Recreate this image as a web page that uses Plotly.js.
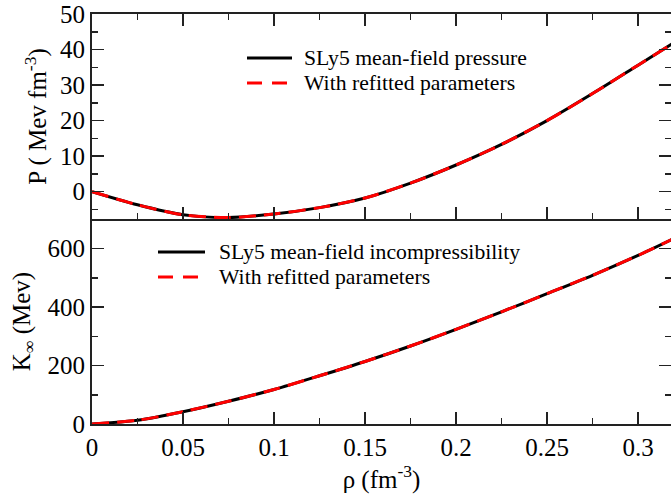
<!DOCTYPE html>
<html>
<head>
<meta charset="utf-8">
<script src="https://cdn.plot.ly/plotly-3.0.1.min.js"></script>
<style>html,body{margin:0;padding:0;background:#fff;}#chart{width:671px;height:500px;}</style>
</head>
<body>
<div id="chart"></div>
<script>
// density values (fm^-3)
var rho = [0, 0.025, 0.05, 0.075, 0.1, 0.125, 0.15, 0.175, 0.2, 0.225, 0.25, 0.275, 0.3, 0.32];
// pressure (MeV fm^-3)
var pressureSLy5 = [0, -3.7, -6.5, -7.3, -6.3, -4.5, -1.8, 2.4, 7.5, 13.3, 20.0, 27.6, 35.6, 42.0];
var pressureRefit = [0, -3.7, -6.5, -7.3, -6.3, -4.5, -1.8, 2.4, 7.5, 13.3, 20.0, 27.6, 35.6, 42.0];
// incompressibility (MeV)
var kSLy5 = [0, 13, 42, 78, 118, 165, 214, 267, 324, 384, 446, 509, 577, 636];
var kRefit = [0, 13, 42, 78, 118, 165, 214, 267, 324, 384, 446, 509, 577, 636];
var names = ["SLy5 mean-field pressure", "With refitted parameters", "SLy5 mean-field incompressibility", "With refitted parameters"];

var serif = "'Liberation Serif', 'Times New Roman', 'DejaVu Serif', serif";
var RED_DASH = "17px,8px";
var traces = [
  {x: rho, y: pressureSLy5, name: names[0], mode: "lines", line: {color: "#000", width: 3, shape: "spline", smoothing: 0.8}, xaxis: "x2", yaxis: "y2"},
  {x: rho, y: pressureRefit, name: names[1], mode: "lines", line: {color: "#ff0000", width: 3, dash: RED_DASH, shape: "spline", smoothing: 0.8}, xaxis: "x2", yaxis: "y2"},
  {x: rho, y: kSLy5, name: names[2], mode: "lines", line: {color: "#000", width: 3, shape: "spline", smoothing: 0.8}, xaxis: "x", yaxis: "y"},
  {x: rho, y: kRefit, name: names[3], mode: "lines", line: {color: "#ff0000", width: 3, dash: RED_DASH, shape: "spline", smoothing: 0.8}, xaxis: "x", yaxis: "y"}
];

var M = {l: 92, r: 0, t: 14, b: 76};
var W = 671, H = 500;
var pw = W - M.l - M.r, ph = H - M.t - M.b;
function px(x) { return (x - M.l) / pw; }
function py(y) { return 1 - (y - M.t) / ph; }

var axCommon = {
  showline: true, linecolor: "#222", linewidth: 2, mirror: "ticks",
  ticks: "inside", ticklen: 12, tickwidth: 1.5, tickcolor: "#222",
  showgrid: false, zeroline: false,
  tickfont: {family: serif, size: 25, color: "#000"}
};
function ax(extra) { return Object.assign({}, axCommon, extra); }

// hand-drawn legends (sample line + text)
var legendRows = [
  {x0: 247, x1: 292, tx: 302, y: 58, color: "#000", dash: "solid", text: names[0]},
  {x0: 247, x1: 292, tx: 302, y: 83, color: "#ff0000", dash: "15px,10px", text: names[1]},
  {x0: 158, x1: 205, tx: 217, y: 252, color: "#000", dash: "solid", text: names[2]},
  {x0: 158, x1: 205, tx: 217, y: 277, color: "#ff0000", dash: "15px,10px", text: names[3]}
];
var shapes = legendRows.map(function (r) {
  return {type: "line", xref: "paper", yref: "paper", x0: px(r.x0), x1: px(r.x1), y0: py(r.y), y1: py(r.y),
    line: {color: r.color, width: 3, dash: r.dash}};
});
var annotations = legendRows.map(function (r) {
  return {xref: "paper", yref: "paper", x: px(r.tx), y: py(r.y), xanchor: "left", yanchor: "middle",
    text: r.text, showarrow: false, font: {family: serif, size: 21.7, color: "#000"}};
});

var layout = {
  width: W, height: H,
  margin: M,
  paper_bgcolor: "#fff", plot_bgcolor: "#fff",
  font: {family: serif, color: "#000"},
  showlegend: false,
  shapes: shapes,
  annotations: annotations,
  xaxis: ax({domain: [0, 1], range: [0, 0.3181], dtick: 0.05, tick0: 0, anchor: "y", mirror: false,
    minor: {dtick: 0.025, ticks: "inside", ticklen: 6, tickcolor: "#222"},
    title: {text: "ρ (fm<sup>-3</sup>)", font: {family: serif, size: 25}, standoff: 2}}),
  yaxis: ax({domain: [0, 0.5], range: [0, 701.6], dtick: 200, tick0: 0, anchor: "x",
    minor: {dtick: 100, ticks: "inside", ticklen: 6, tickcolor: "#222"},
    title: {text: "K<sub>∞</sub> (Mev)", font: {family: serif, size: 25}, standoff: 10}}),
  xaxis2: ax({domain: [0, 1], range: [0, 0.3181], dtick: 0.05, tick0: 0, anchor: "y2", showticklabels: false,
    minor: {dtick: 0.025, ticks: "inside", ticklen: 6, tickcolor: "#222"}, matches: "x"}),
  yaxis2: ax({domain: [0.5, 1], range: [-7.7, 50], dtick: 10, tick0: 0, anchor: "x2",
    minor: {dtick: 5, ticks: "inside", ticklen: 6, tickcolor: "#222"},
    title: {text: "P ( Mev fm<sup>-3</sup>)", font: {family: serif, size: 25}, standoff: 6}})
};

Plotly.newPlot("chart", traces, layout, {displayModeBar: false, staticPlot: true});
</script>
</body>
</html>
